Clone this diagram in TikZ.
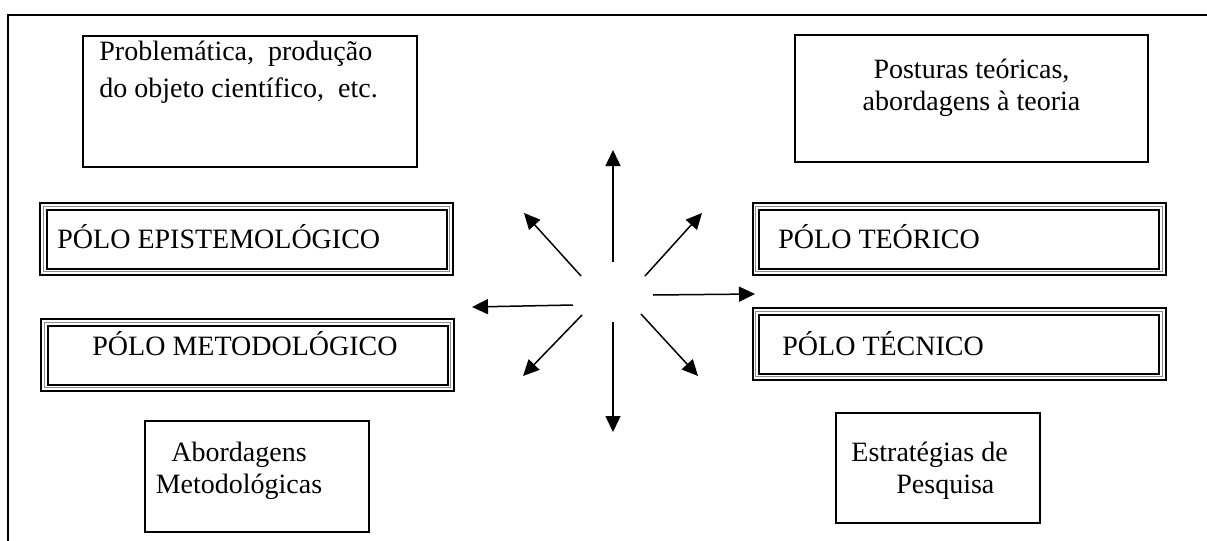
\documentclass[tikz,border=0pt]{standalone}
\usepackage{fontspec}
\setmainfont{Liberation Serif}
\usetikzlibrary{arrows.meta}

\begin{document}
\begin{tikzpicture}[x = 0.5pt, y = -0.5pt,
	plainbox/.style = {draw, line width = 0.65pt, inner sep = 0pt, outer sep = 0pt},
	polobox/.style = {draw, line width = 1pt, inner sep = 0pt, outer sep = 0pt, minimum width = 206.5pt, minimum height = 36pt},
	rimthin/.style = {line width = 0.3pt, black!45},
	rimthick/.style = {line width = 1pt},
	boxtext/.style = {inner sep = 0pt, font = \fontsize{14}{16}\selectfont},
	spoke/.style = {line width = 0.75pt, -{Triangle[length = 8pt, width = 7.5pt]}}]

	% Definitions

	\useasboundingbox (0, 0) rectangle (1207, 541);

	% Frame (only top and left sides fall inside the picture)

	\draw [line width = 1pt] (8, 541) -- (8, 15) -- (1207, 15);

	% Plain boxes

	\node [plainbox, minimum width = 167pt, minimum height = 65.5pt] (prob) at (250, 101.5) {};
	\node [plainbox, minimum width = 176.5pt, minimum height = 63.5pt] (post) at (971.5, 98.5) {};
	\node [plainbox, minimum width = 112pt, minimum height = 55.5pt] (abord) at (257, 476.5) {};
	\node [plainbox, minimum width = 102pt, minimum height = 55pt] (estr) at (938, 468) {};

	% Pole boxes (thick - thin - thick rim)

	\node [polobox] (epis) at (246.5, 239) {};
	\node [polobox] (meto) at (247.5, 355) {};
	\node [polobox] (teor) at (959, 239) {};
	\node [polobox] (tecn) at (959, 344) {};

	\foreach \p in {epis, meto, teor, tecn}
	{
		\draw [rimthin] ([shift = {(3.25, 3.25)}] \p.north west) rectangle ([shift = {(-3.25, -3.25)}] \p.south east);
		\draw [rimthick] ([shift = {(6.5, 6.5)}] \p.north west) rectangle ([shift = {(-6.5, -6.5)}] \p.south east);
	}

	% Texts (base of a two-line node is its last line)

	\node [boxtext, align = left, anchor = base west, font = \fontsize{14}{18.5}\selectfont] (probtxt) at ([shift = {(16, 61)}] prob.north west) {Problemática,~ produção\\do objeto científico,~ etc.};
	\node [boxtext, align = center, anchor = base] (posttxt) at ([shift = {(0, 75)}] post.north) {Posturas teóricas,\\abordagens à teoria};
	\node [boxtext, align = center, anchor = base] (abordtxt) at ([shift = {(-18, 72)}] abord.north) {Abordagens\\Metodológicas};
	\node [boxtext, align = left, anchor = base west] (estrtxt) at ([shift = {(15, 80)}] estr.north west) {Estratégias de\\\hspace*{22.5pt}Pesquisa};

	\node [boxtext, anchor = base west] (epistxt) at ([shift = {(17, 9)}] epis.west) {PÓLO EPISTEMOLÓGICO};
	\node [boxtext, anchor = base] (metotxt) at ([shift = {(-2.5, 0)}] meto.center) {PÓLO METODOLÓGICO};
	\node [boxtext, anchor = base west] (teortxt) at ([shift = {(25.5, 9)}] teor.west) {PÓLO TEÓRICO};
	\node [boxtext, anchor = base west] (tecntxt) at ([shift = {(29.5, 11)}] tecn.west) {PÓLO TÉCNICO};

	% Arrows out of the middle

	\coordinate (hub) at (613, 300);

	\foreach \sx/\sy/\ex/\ey in {0/-38/0/-150, 0/22/0/132, -40/5/-141/7, 40/-5/142/-6, -32/-24/-89/-87, 32/-24/89/-87, -31/15/-90/76, 28/14/85/76}
		\draw [spoke] ([shift = {(\sx, \sy)}] hub) -- ([shift = {(\ex, \ey)}] hub);

\end{tikzpicture}
\end{document}
